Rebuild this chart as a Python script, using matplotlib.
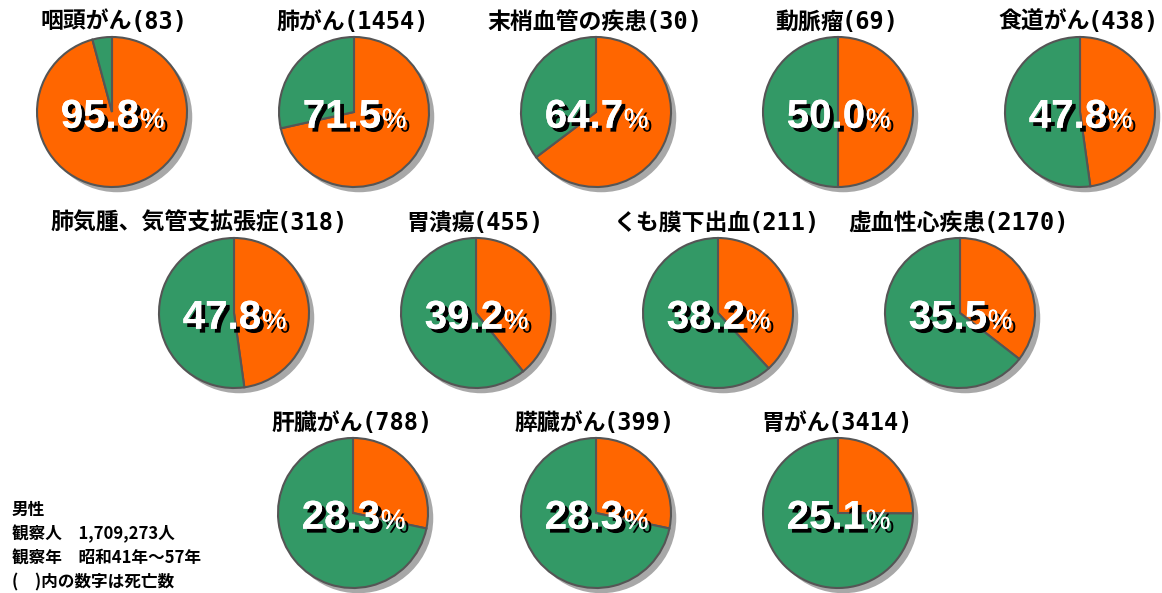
import matplotlib
matplotlib.use("Agg")
import matplotlib.pyplot as plt
import matplotlib.patheffects as pe
from matplotlib.patches import Circle

plt.rcParams['font.family'] = ['Noto Sans CJK JP', 'DejaVu Sans']

# データ
names = ["咽頭がん", "肺がん", "末梢血管の疾患", "動脈瘤", "食道がん",
         "肺気腫、気管支拡張症", "胃潰瘍", "くも膜下出血", "虚血性心疾患",
         "肝臓がん", "膵臓がん", "胃がん"]
deaths = [83, 1454, 30, 69, 438, 318, 455, 211, 2170, 788, 399, 3414]
pct = [95.8, 71.5, 64.7, 50.0, 47.8, 47.8, 39.2, 38.2, 35.5, 28.3, 28.3, 25.1]

notes = ["男性", "観察人　1,709,273人", "観察年　昭和41年～57年", "(　)内の数字は死亡数"]

C_ORANGE = "#FF6600"
C_GREEN = "#339966"
C_EDGE = "#555555"
C_SHADOW = "#A8A8A8"

W, H = 1162, 593
R = 75  # 半径 (px)

# 円の中心 (px)
centers = [(112, 112), (354, 112), (596, 112), (838, 112), (1080, 112),
           (234, 313), (476, 313), (718, 313), (960, 313),
           (353, 513), (596, 513), (838, 513)]
# タイトル中心のずれ (長いタイトルだけ左寄せ)
title_dx = [3, 0, 0, 0, 0, -34, 0, 0, 0, 0, 0, 0]

fig = plt.figure(figsize=(W / 100, H / 100), dpi=100)
fig.patch.set_facecolor("white")
renderer = fig.canvas.get_renderer()

shadow_fx = [pe.withSimplePatchShadow(offset=(2.8, -2.8), shadow_rgbFace="black", alpha=1.0),
             pe.Normal()]


def title(cx, cy, name, count):
    # 名前 (CJK) と (数字) を別フォントで並べて中央揃え
    t1 = fig.text(0, 0, name, ha="left", va="center", fontsize=16.5,
                  weight="bold", color="black")
    t2 = fig.text(0, 0, f"({count})", ha="left", va="center", fontsize=17,
                  family="DejaVu Sans Mono", weight="bold", color="black")
    w1 = t1.get_window_extent(renderer).width
    w2 = t2.get_window_extent(renderer).width
    x0 = cx - (w1 + w2) / 2
    y = 1 - cy / H
    t1.set_position((x0 / W, y))
    t2.set_position(((x0 + w1 - 2) / W, y))


for i, (name, d, p, (cx, cy)) in enumerate(zip(names, deaths, pct, centers)):
    half = R * 1.15
    ax = fig.add_axes([(cx - half) / W, 1 - (cy + half) / H, 2 * half / W, 2 * half / H])
    ax.add_patch(Circle((0.07, -0.07), 1.0, facecolor=C_SHADOW, edgecolor="none", zorder=0.5))
    ax.pie([p, 100 - p], startangle=90, counterclock=False, radius=1.0,
           colors=[C_ORANGE, C_GREEN], frame=True,
           wedgeprops=dict(edgecolor=C_EDGE, linewidth=1.5))
    ax.set_xlim(-1.15, 1.15)
    ax.set_ylim(-1.15, 1.15)
    ax.set_aspect("equal")
    ax.axis("off")
    ax.text(0.36, -0.21, f"{p:.1f}", ha="right", va="baseline", fontsize=29,
            weight="bold", color="white", family="Liberation Sans",
            path_effects=shadow_fx, zorder=5)
    ax.text(0.37, -0.21, "%", ha="left", va="baseline", fontsize=20,
            color="white", family="Liberation Sans",
            path_effects=shadow_fx, zorder=5)
    title(cx + title_dx[i], cy - 90, name, d)

for i, line in enumerate(notes):
    fig.text(12 / W, 1 - (510 + i * 24.3) / H, line, ha="left", va="center",
             fontsize=12, weight="bold", color="black")

fig.savefig("out.png", dpi=100, facecolor="white")
